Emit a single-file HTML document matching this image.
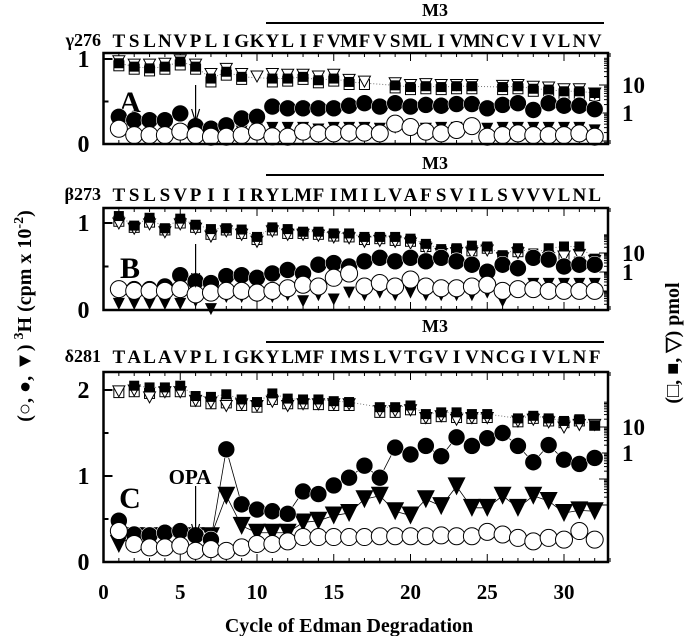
<!DOCTYPE html>
<html><head><meta charset="utf-8"><style>
html,body{margin:0;padding:0;background:#fff;}
svg{display:block;font-family:"Liberation Serif",serif;font-weight:bold;}
</style></head><body>
<svg id="chart" width="693" height="636" viewBox="0 0 693 636" xmlns="http://www.w3.org/2000/svg">
<text transform="translate(31,316) rotate(-90)" text-anchor="middle" font-size="20">(○, ●, ▼) <tspan dy="-8" font-size="14">3</tspan><tspan dy="8">H (cpm x 10</tspan><tspan dy="-8" font-size="14">-2</tspan><tspan dy="8">)</tspan></text>
<text transform="translate(679,343) rotate(-90)" text-anchor="middle" font-size="20">(□, ■, ▽) pmol</text>
<text x="349" y="632" text-anchor="middle" font-size="20">Cycle of Edman Degradation</text>
</svg>
<script>
const cycles = [1,2,3,4,5,6,7,8,9,10,11,12,13,14,15,16,17,18,19,20,21,22,23,24,25,26,27,28,29,30,31,32];
const xTicks = [0,5,10,15,20,25,30];
// Panel A
const seqA = "TSLNVPLIGKYLIFVMFVSMLIVMNCVIVLNV";
const filledCircA = [0.32,0.28,0.28,0.28,0.36,0.21,0.18,0.22,0.30,0.32,0.44,0.42,0.42,0.42,0.42,0.45,0.48,0.44,0.48,0.44,0.46,0.45,0.47,0.47,0.42,0.46,0.48,0.40,0.48,0.45,0.45,0.41];
const openCircA = [0.18,0.105,0.105,0.105,0.146,0.105,0.086,0.086,0.105,0.146,0.09,0.086,0.146,0.125,0.125,0.134,0.134,0.125,0.24,0.20,0.146,0.125,0.165,0.21,0.086,0.105,0.125,0.105,0.105,0.105,0.125,0.086];
const filledTriA = [0.16,0.15,0.15,0.15,0.16,0.15,0.14,0.14,0.15,0.17,0.19,0.19,0.19,0.17,0.19,0.19,0.19,0.18,0.19,0.18,0.18,0.19,0.19,0.18,0.18,0.19,0.19,0.19,0.19,0.19,0.19,0.16];
const filledSqA = [0.95,0.91,0.89,0.91,0.97,0.91,0.77,0.85,0.79,null,0.77,0.77,0.79,0.75,0.77,0.73,null,null,0.69,0.67,0.68,0.67,0.68,0.68,null,0.67,0.68,0.65,0.64,0.62,0.62,0.60];
const openSqA = [0.92,0.88,0.86,0.88,0.93,0.88,0.73,0.81,0.76,null,0.73,0.74,0.76,0.72,0.74,0.70,0.70,null,0.66,0.64,0.65,0.64,0.65,0.65,null,0.64,0.65,0.62,0.61,0.59,0.59,0.57];
const openTriA = [0.98,0.94,0.94,0.95,0.99,0.94,0.83,0.89,0.83,0.8,0.83,0.82,0.82,0.8,0.82,0.76,0.74,null,0.72,0.70,0.71,0.70,0.70,0.70,null,0.69,0.70,0.68,0.67,0.65,0.65,0.60];
// Panel B
const seqB = "TSLSVPIIIRYLMFIMILVAFSVILSVVVLNL";
const filledCircB = [0.24,0.24,0.24,0.27,0.40,0.33,0.31,0.39,0.40,0.37,0.42,0.46,0.42,0.52,0.54,0.50,0.56,0.60,0.56,0.60,0.56,0.60,0.56,0.52,0.44,0.52,0.48,0.60,0.58,0.50,0.52,0.52];
const openCircB = [0.24,0.22,0.22,0.22,0.24,0.18,0.20,0.22,0.22,0.20,0.22,0.25,0.29,0.27,0.37,0.42,0.27,0.31,0.27,0.35,0.27,0.25,0.25,0.27,0.29,0.22,0.24,0.24,0.22,0.22,0.22,0.22];
const filledTriB = [0.07,0.07,0.07,0.07,0.07,0.1,0.01,0.15,0.15,0.15,0.15,0.17,0.1,0.17,0.12,0.2,0.17,0.2,0.17,0.2,0.17,0.17,0.17,0.17,0.2,0.1,0.25,0.3,0.3,0.3,0.3,0.3];
const filledSqB = [1.08,0.97,1.06,0.94,1.05,0.98,0.93,0.94,0.925,0.84,0.95,0.93,0.90,0.90,0.88,0.88,0.84,0.84,0.84,0.82,0.76,0.70,0.71,0.74,0.73,0.63,0.71,0.65,0.71,0.73,0.73,0.59];
const openSqB = [1.02,0.95,1.01,0.92,1.00,0.95,0.87,0.92,0.88,0.81,0.92,0.88,0.88,0.87,0.85,0.84,0.81,0.82,0.80,0.79,0.73,0.67,0.69,0.68,0.71,0.61,0.67,0.60,0.62,0.60,0.55,0.57];
const openTriB = [1.0,0.94,0.99,0.90,0.99,0.94,0.85,0.91,0.87,0.79,0.91,0.87,0.87,0.86,0.84,0.83,0.79,0.80,0.79,0.77,0.71,0.65,0.66,0.66,0.69,0.60,0.66,0.60,0.60,0.62,0.64,0.57];
// Panel C
const seqC = "TALAVPLIGKYLMFIMSLVTGVIVNCGIVLNF";
const filledCircC = [0.48,0.32,0.31,0.34,0.36,0.31,0.26,1.31,0.67,0.61,0.59,0.56,0.82,0.79,0.89,0.98,1.12,0.98,1.33,1.25,1.35,1.23,1.45,1.35,1.44,1.50,1.35,1.16,1.36,1.19,1.14,1.21];
const openCircC = [0.36,0.21,0.17,0.17,0.19,0.13,0.15,0.13,0.17,0.21,0.21,0.24,0.29,0.29,0.29,0.29,0.29,0.30,0.30,0.30,0.30,0.31,0.30,0.30,0.35,0.32,0.28,0.24,0.28,0.26,0.36,0.26];
const filledTriC = [0.21,0.3,0.3,0.3,0.3,0.3,0.3,0.77,0.42,0.34,0.34,0.34,0.46,0.48,0.54,0.57,0.73,0.77,0.59,0.54,0.73,0.65,0.88,0.63,0.63,0.77,0.63,0.77,0.71,0.57,0.60,0.59];
const filledSqC = [null,2.05,2.03,2.03,2.05,1.93,1.92,1.95,1.89,1.86,1.96,1.90,1.89,1.89,1.87,1.86,null,1.80,1.80,1.82,1.72,1.74,1.74,1.72,1.72,null,1.67,1.70,1.67,1.64,1.66,1.59];
const openSqC = [1.97,1.98,1.96,1.98,1.98,1.87,1.84,1.85,1.82,1.80,1.89,1.84,1.84,1.83,1.82,1.82,null,1.74,1.74,1.77,1.67,1.69,1.68,1.67,1.68,null,1.63,1.67,1.64,1.62,1.64,1.59];
const openTriC = [1.99,2.0,1.92,1.98,1.98,1.88,1.86,1.82,1.84,1.82,1.87,1.82,1.84,1.84,1.84,1.84,null,1.76,1.76,1.77,1.68,1.70,1.66,1.68,1.68,null,1.64,1.66,1.63,1.57,1.60,1.60];

const svg = document.getElementById('chart');
const NS = 'http://www.w3.org/2000/svg';
const X0 = 103.5, XS = 15.35, XR = 608;
function xScale(c){ return X0 + c*XS; }
function mk(tag, attrs, parent){
  const e = document.createElementNS(NS, tag);
  for (const k in attrs) e.setAttribute(k, attrs[k]);
  (parent||svg).appendChild(e);
  return e;
}
const panels = [
  {id:'a', top:53, y0:144, unit:85, yTicks:[0,0.5,1], yLabels:[0,1], letter:'A', lx:130, ly:102, prefix:'γ276', seq:seqA, m3:10, m3line:23, seqY:40,
   r10:85, r1:113, arrow:[85,122], fc:filledCircA, oc:openCircA, ft:filledTriA, fs:filledSqA, os:openSqA, ot:openTriA, lines:false, triSize:6},
  {id:'b', top:208, y0:310, unit:87, yTicks:[0,0.5,1], yLabels:[0,1], letter:'B', lx:130, ly:268, prefix:'β273', seq:seqB, m3:163, m3line:175, seqY:194,
   r10:253, r1:272, arrow:[244,286], fc:filledCircB, oc:openCircB, ft:filledTriB, fs:filledSqB, os:openSqB, ot:openTriB, lines:false, triSize:6},
  {id:'c', top:372, y0:562, unit:86, yTicks:[0,0.5,1,1.5,2], yLabels:[0,1,2], letter:'C', lx:130, ly:498, prefix:'δ281', seq:seqC, m3:326, m3line:342, seqY:356,
   r10:427, r1:453, arrow:[486,537], fc:filledCircC, oc:openCircC, ft:filledTriC, fs:filledSqC, os:openSqC, ot:openTriC, lines:true, triSize:9}
];
panels.forEach(p => {
  const g = mk('g', {});
  
  
  const yS = v => p.y0 - v*p.unit;
  for (let c=1;c<=33;c++){
    const x = xScale(c), L = (c%5===0)?8:4;
    mk('line',{x1:x,x2:x,y1:p.y0,y2:p.y0-L,stroke:'#000','stroke-width':1},g);
    mk('line',{x1:x,x2:x,y1:p.top,y2:p.top+L,stroke:'#000','stroke-width':1},g);
  }
  p.yTicks.forEach(v=>{
    const y=yS(v);
    mk('line',{x1:X0,x2:X0+(Number.isInteger(v)?9:5),y1:y,y2:y,stroke:'#000','stroke-width':2},g);
  });
  const dec = p.r1 - p.r10;
  [p.r10 - dec, p.r10, p.r1, p.r1 + dec].forEach(yb=>{
    for (let m=1;m<10;m++){
      const y = yb + dec*(1 - Math.log10(m));
      if (y < p.top || y > p.y0) continue;
      mk('line',{x1:XR,x2:XR-(m===1?9:4),y1:y,y2:y,stroke:'#000','stroke-width':1},g);
    }
  });
  p.yLabels.forEach(v=>{
    const t = mk('text',{x:X0-14,y:yS(v)+8,'text-anchor':'end','font-size':24},g);
    t.textContent = v;
    
    
  });
  const t10 = mk('text',{x:622,y:p.r10+8,'font-size':23},g); t10.textContent='10';
  
  
  const t1 = mk('text',{x:622,y:p.r1+8,'font-size':23},g); t1.textContent='1';
  
  
  const pre = mk('text',{x:101,y:p.seqY+6,'text-anchor':'end','font-size':18},g); pre.textContent=p.prefix;
  
  
  cycles.forEach((c,i)=>{
    const t = mk('text',{x:xScale(c),y:p.seqY+7,'text-anchor':'middle','font-size':19},g);
    t.textContent = p.seq[i];
    
    
  });
  mk('line',{x1:266,x2:604,y1:p.m3line,y2:p.m3line,stroke:'#000','stroke-width':2},g);
  const m3 = mk('text',{x:435,y:p.m3+6,'text-anchor':'middle','font-size':18},g); m3.textContent='M3';
  
  
  const pl = mk('text',{x:p.lx,y:p.ly+10,'text-anchor':'middle','font-size':30},g); pl.textContent=p.letter;
  
  
  let pts = [];
  cycles.forEach((c,i)=>{ if(p.fs[i]!=null) pts.push(xScale(c)+','+yS(p.fs[i])); });
  mk('polyline',{points:pts.join(' '),fill:'none',stroke:'#777','stroke-width':1,'stroke-dasharray':'1,2'},g);
  cycles.forEach((c,i)=>{
    const x = xScale(c);
    if (p.os[i]!=null){ const e=mk('rect',{x:x-5,y:yS(p.os[i])-5,width:10,height:10,fill:'#fff',stroke:'#000','stroke-width':1},g);
        }
    if (p.ot[i]!=null){ const y=yS(p.ot[i]); const e=mk('polygon',{points:`${x-6},${y-5} ${x+6},${y-5} ${x},${y+6}`,fill:'#fff',stroke:'#000','stroke-width':1},g);
        }
    if (p.fs[i]!=null){ const e=mk('rect',{x:x-5,y:yS(p.fs[i])-5,width:10,height:10,fill:'#000'},g);
        }
  });
  if (p.lines){
    [p.ft,p.fc,p.oc].forEach(arr=>{
      mk('polyline',{points:cycles.map((c,i)=>xScale(c)+','+yS(arr[i])).join(' '),fill:'none',stroke:'#000','stroke-width':0.8},g);
    });
  }
  const s = p.triSize;
  cycles.forEach((c,i)=>{
    const x=xScale(c), y=yS(p.ft[i]);
    const e=mk('polygon',{points:`${x-s},${y-s} ${x+s},${y-s} ${x},${y+s}`,fill:'#000'},g);
     
  });
  cycles.forEach((c,i)=>{
    const e=mk('circle',{cx:xScale(c),cy:yS(p.fc[i]),r:8.5,fill:'#000',stroke:'#fff','stroke-width':0.6},g);
     
  });
  cycles.forEach((c,i)=>{
    const e=mk('circle',{cx:xScale(c),cy:yS(p.oc[i]),r:8.5,fill:'#fff',stroke:'#000','stroke-width':1},g);
     
  });
  const ax = xScale(6);
  mk('line',{x1:ax,x2:ax,y1:p.arrow[0],y2:p.arrow[1],stroke:'#000','stroke-width':1.2},g);
  mk('polyline',{points:`${ax-4},${p.arrow[1]-13} ${ax},${p.arrow[1]} ${ax+4},${p.arrow[1]-13}`,fill:'none',stroke:'#000','stroke-width':1.2},g);
  if (p.id==='c'){
    const o = mk('text',{x:190,y:484,'text-anchor':'middle','font-size':21},g); o.textContent='OPA';
     
  }
  mk('rect',{x:X0,y:p.top,width:XR-X0,height:p.y0-p.top,fill:'none',stroke:'#000','stroke-width':2.5},g);
});
xTicks.forEach(v=>{
  const t = mk('text',{x:xScale(v),y:599,'text-anchor':'middle','font-size':21});
  t.textContent = v;
  
  
});
</script>
</body></html>
